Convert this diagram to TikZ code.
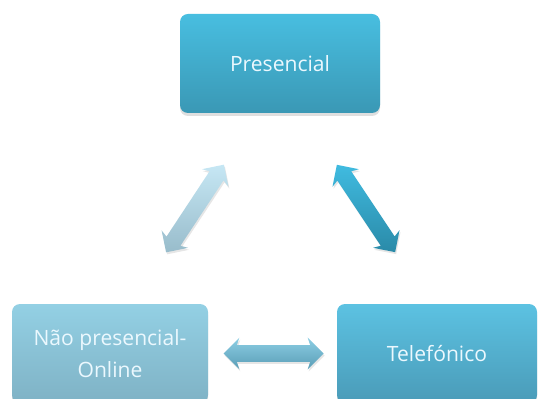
\documentclass[tikz,border=0pt]{standalone}
\usepackage{fontspec}
\setmainfont{Open Sans}
\usetikzlibrary{positioning}
\usetikzlibrary{calc}
\usetikzlibrary{shapes.arrows}
\usetikzlibrary{shadows}

\definecolor{presTop}{HTML}{48BEE0}
\definecolor{presBot}{HTML}{3A98B5}
\definecolor{naoTop}{HTML}{93D0E4}
\definecolor{naoBot}{HTML}{7FB2C5}
\definecolor{telTop}{HTML}{5CC2E2}
\definecolor{telBot}{HTML}{4A9BB8}
\definecolor{lftTop}{HTML}{C6E7F4}
\definecolor{lftBot}{HTML}{98BCCB}
\definecolor{rgtTop}{HTML}{40BBE0}
\definecolor{rgtBot}{HTML}{2A8AA8}
\definecolor{horTop}{HTML}{8CCEE4}
\definecolor{horBot}{HTML}{5A9DB6}

\begin{document}
\begin{tikzpicture}[
        box/.style={rounded corners=0.16cm, align=center,
                    minimum width=4cm, minimum height=1.98cm,
                    text=white!92!cyan,
                    font=\fontsize{12}{18}\selectfont,
                    drop shadow={shadow xshift=0cm, shadow yshift=-0.06cm,
                                 opacity=0.25}},
        dblarrow/.style={double arrow, inner sep=0.16cm,
                    double arrow head extend=0.15cm,
                    double arrow head indent=0.05cm,
                    minimum height=2.1cm,
                    drop shadow={shadow xshift=0.02cm, shadow yshift=-0.04cm,
                                 opacity=0.2}}
    ]

    \useasboundingbox (0,0) rectangle (10.78,-7.98);
    \clip (0,0) rectangle (10.78,-7.98);

    % ------- the three channels -------
    \node[box, top color=presTop, bottom color=presBot] (pres) at (5.6,-1.27) {Presencial};
    \node[box, top color=naoTop, bottom color=naoBot, minimum width=3.92cm] (nao) at (2.2,-7.07) {Não presencial-\\Online};
    \node[box, top color=telTop, bottom color=telBot] (tel) at (8.74,-7.07) {Telefónico};

    % ------- double arrows between them -------
    \node[dblarrow, rotate=56.6, top color=lftTop, bottom color=lftBot]
        (a1) at ($(nao)!0.5!(pres)$) {};
    \node[dblarrow, rotate=123.7, top color=rgtTop, bottom color=rgtBot]
        (a2) at ($($(tel)!0.5!(pres)$)+(0.15,0)$) {};
    \node[dblarrow, minimum height=2cm, top color=horTop, bottom color=horBot]
        (a3) at ($(nao)!0.5!(tel)$) {};

\end{tikzpicture}
\end{document}
